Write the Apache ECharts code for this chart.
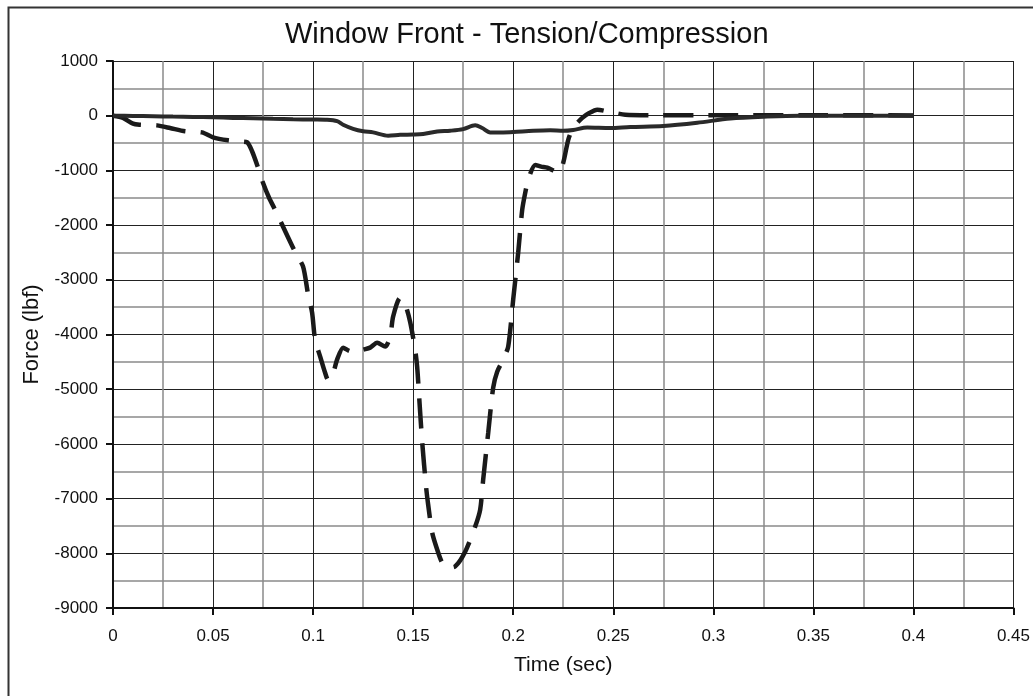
<!DOCTYPE html>
<html>
<head>
<meta charset="utf-8">
<script src="https://cdn.jsdelivr.net/npm/echarts@6/dist/echarts.min.js"></script>
<style>
html,body{margin:0;padding:0;background:#fff;}
#c{width:1033px;height:696px;}
</style>
</head>
<body>
<div id="c"></div>
<script>
var titleText = 'Window Front - Tension/Compression';
var xName = 'Time (sec)';
var yName = 'Force (lbf)';

var solidTime  = [0, 0.01, 0.02, 0.03, 0.04, 0.05, 0.06, 0.07, 0.08, 0.09, 0.1, 0.107, 0.112, 0.115, 0.12, 0.125, 0.13, 0.1375, 0.1435, 0.15, 0.155, 0.162, 0.1685, 0.175, 0.181, 0.1845, 0.1885, 0.195, 0.2, 0.21, 0.2185, 0.225, 0.23, 0.237, 0.2485, 0.2585, 0.275, 0.292, 0.3085, 0.327, 0.3435, 0.36, 0.38, 0.4];
var solidForce = [0, -5, -10, -16, -22, -30, -40, -48, -58, -65, -70, -75, -100, -165, -240, -285, -305, -365, -350, -345, -335, -290, -275, -245, -175, -225, -305, -305, -298, -275, -265, -275, -260, -215, -225, -205, -190, -130, -50, -15, 0, 0, 0, 0];

var dashTime  = [0, 0.005, 0.01, 0.0135, 0.018, 0.022, 0.0285, 0.036, 0.0445, 0.05, 0.0575, 0.063, 0.067, 0.0695, 0.0725, 0.075, 0.078, 0.081, 0.085, 0.091, 0.095, 0.0975, 0.0995, 0.101, 0.1035, 0.106, 0.1075, 0.1095, 0.112, 0.115, 0.118, 0.121, 0.125, 0.1285, 0.132, 0.136, 0.1385, 0.14, 0.1435, 0.146, 0.1485, 0.151, 0.152, 0.153, 0.1545, 0.1565, 0.1575, 0.1595, 0.162, 0.1645, 0.1675, 0.171, 0.176, 0.181, 0.1835, 0.185, 0.1875, 0.19, 0.192, 0.195, 0.1975, 0.2, 0.2025, 0.2045, 0.206, 0.2075, 0.211, 0.214, 0.217, 0.2225, 0.225, 0.2275, 0.23, 0.2345, 0.238, 0.242, 0.2485, 0.256, 0.27, 0.3, 0.35, 0.4];
var dashForce = [0, -40, -145, -165, -172, -177, -225, -285, -305, -395, -450, -470, -485, -650, -950, -1230, -1500, -1720, -2030, -2490, -2760, -3270, -3600, -4095, -4400, -4700, -4830, -4770, -4460, -4240, -4300, -4330, -4280, -4240, -4150, -4220, -4040, -3670, -3330, -3450, -3770, -4280, -4590, -5140, -5960, -6800, -7110, -7620, -7930, -8170, -8260, -8240, -7970, -7510, -7200, -6650, -5800, -4970, -4680, -4460, -4220, -3360, -2500, -1720, -1410, -1170, -900, -930, -950, -1040, -860, -440, -220, -40, 50, 110, 67, 18, 10, 10, 10, 5];

function pairs(xs, ys){ var out=[]; for(var i=0;i<xs.length;i++){ out.push([xs[i], ys[i]]); } return out; }

var font = 'Liberation Sans, Arial, Helvetica, sans-serif';
var chart = echarts.init(document.getElementById('c'), null, {renderer:'canvas'});
chart.setOption({
  animation: false,
  backgroundColor: '#ffffff',
  graphic: [{
    type: 'rect', left: 6, top: 5, z: 100, silent: true,
    shape: {width: 1040, height: 710},
    style: {fill: 'none', stroke: '#333', lineWidth: 2}
  }],
  title: {
    text: titleText, left: 280, top: 15,
    textStyle: {fontFamily: font, fontSize: 29, fontWeight: 'normal', color: '#111'}
  },
  grid: {left: 113, right: 18, top: 61, bottom: 88, containLabel: false},
  xAxis: {
    type: 'value', min: 0, max: 0.45, interval: 0.05,
    name: xName, nameLocation: 'middle', nameGap: 47,
    nameTextStyle: {fontFamily: font, fontSize: 21, color: '#111'},
    axisLine: {show: true, onZero: false, lineStyle: {color: '#111', width: 2}},
    axisTick: {show: true, inside: false, length: 7, lineStyle: {color: '#111', width: 2}},
    axisLabel: {fontFamily: font, fontSize: 17, color: '#111', margin: 20,
      formatter: function(v){ return String(parseFloat(v.toFixed(3))); }},
    splitLine: {show: true, lineStyle: {color: '#222', width: 1}},
    minorTick: {show: false, splitNumber: 2},
    minorSplitLine: {show: true, lineStyle: {color: '#8a8a8a', width: 1.5}}
  },
  yAxis: {
    type: 'value', min: -9000, max: 1000, interval: 1000,
    name: yName, nameLocation: 'middle', nameGap: 70, nameRotate: 90,
    nameTextStyle: {fontFamily: font, fontSize: 22, color: '#111'},
    axisLine: {show: true, onZero: false, lineStyle: {color: '#111', width: 2}},
    axisTick: {show: true, inside: false, length: 7, lineStyle: {color: '#111', width: 2}},
    axisLabel: {fontFamily: font, fontSize: 17, color: '#111', margin: 15,
      formatter: function(v){ return String(v); }},
    splitLine: {show: true, lineStyle: {color: '#222', width: 1}},
    minorTick: {show: false, splitNumber: 2},
    minorSplitLine: {show: true, lineStyle: {color: '#8a8a8a', width: 1.5}}
  },
  series: [{
    name: 'dashed', type: 'line', data: pairs(dashTime, dashForce),
    showSymbol: false, smooth: 0.25, z: 3,
    lineStyle: {color: '#1a1a1a', width: 4.5, type: [30, 15], cap: 'butt'}
  }, {
    name: 'solid', type: 'line', data: pairs(solidTime, solidForce),
    showSymbol: false, smooth: 0.3, z: 4,
    lineStyle: {color: '#2a2a2a', width: 4, type: 'solid'}
  }]
});
</script>
</body>
</html>
